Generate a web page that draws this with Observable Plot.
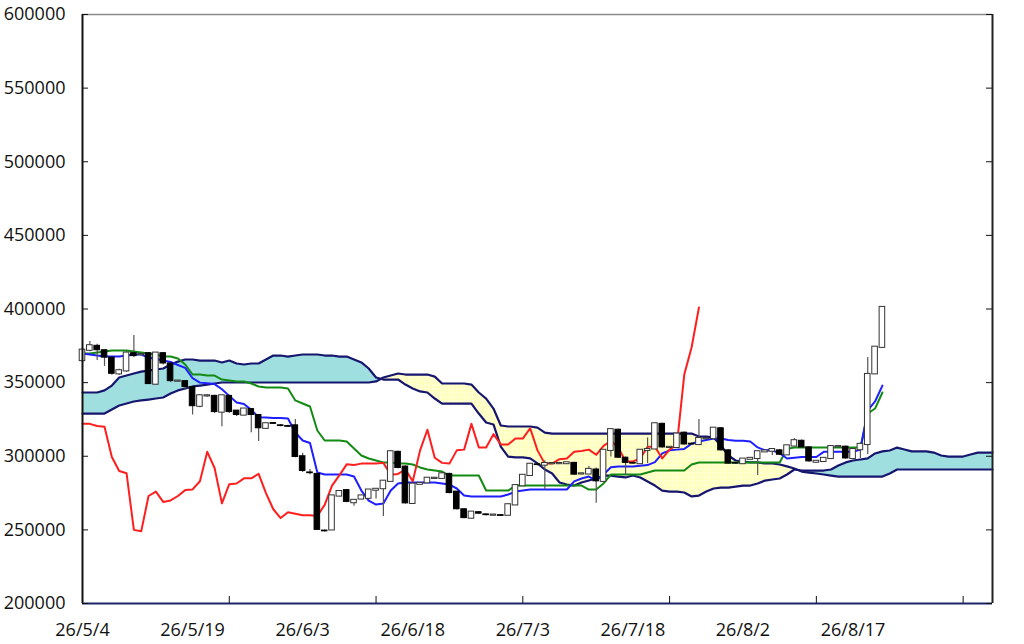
<!DOCTYPE html>
<html>
<head>
<meta charset="utf-8">
<script src="https://cdn.jsdelivr.net/npm/d3@7"></script>
<script src="https://cdn.jsdelivr.net/npm/@observablehq/plot@0.6"></script>
<style>
  html, body { margin: 0; padding: 0; background: #fff; }
  #chart { width: 1024px; height: 644px; }
</style>
</head>
<body>
<div id="chart"></div>
<script>
// ---- tick labels ----
const xLabels = ["26/5/4","26/5/19","26/6/3","26/6/18","26/7/3","26/7/18","26/8/2","26/8/17"];
const xLabelIdx = [0, 15, 30, 45, 60, 75, 90, 105];
const xTickIdx = [0, 20, 40, 60, 80, 100, 120];
const yTicks = [200000, 250000, 300000, 350000, 400000, 450000, 500000, 550000, 600000];

// ---- candles (trading-day index 0..109) ----
const open = [
365000,372000,375000,372000,367000,356000,358000,370000,369000,370000,
349000,370000,363000,351000,351000,347000,334000,341000,341000,330000,
341000,331000,328000,332000,328000,319000,322500,321000,320500,321000,
300000,289000,288000,249500,250000,273000,277000,268500,271000,271500,
277000,278000,283000,303000,293000,268000,281000,282000,285000,285000,
288000,276000,264000,258000,262000,260500,260000,260000,260000,267000,
280000,287000,294500,294000,295000,295000,295000,295500,288000,288000,
291000,283000,304000,318000,299000,295500,295000,304000,305000,322000,
306000,306000,316000,308500,308000,312000,312000,319000,304000,295500,
295000,298000,298500,303000,303500,304000,301000,307000,310500,306000,
296000,296500,298500,306500,306500,298500,304500,308000,356000,374000];
const close = [
372000,375000,372000,367000,356000,358000,370000,368000,369000,349000,
370000,363000,351000,351000,347000,334000,341000,341000,330000,341000,
330000,328000,332000,328000,319000,322000,322000,320500,320000,299500,
290000,288500,250000,249000,273000,276000,269000,270000,273000,277000,
277500,283000,303000,292000,268000,281000,281500,285000,285000,288000,
275000,264000,258000,262000,261000,260000,260000,259500,267000,280000,
287000,294500,294000,295000,295000,295000,295500,287500,288000,291000,
283000,304000,318000,299000,295500,295000,304000,304500,322000,306000,
306000,315000,308000,308000,312000,312000,319000,304000,295000,295000,
298000,298500,303000,303500,304500,301000,307000,310500,306000,296500,
296500,298500,306500,306500,298500,304500,308000,355500,374000,401000];
const high = [
373000,378000,376000,372000,367000,359000,371000,382000,370000,370500,
370500,370500,363000,351500,351500,347000,342000,342000,341500,341500,
341500,331000,332500,332500,328000,322500,323000,321500,321000,325000,
302000,291000,289000,250000,273500,276500,277500,270500,273500,277500,
278000,283500,303500,303500,293500,281500,282000,285500,285500,289000,
288500,276000,264000,262500,262500,261000,260500,260500,267500,280500,
287500,295000,295000,297000,295500,295500,296000,296000,288500,293000,
292000,304500,318500,318500,299500,295500,304500,312500,322500,322500,
306500,315500,316500,309000,325000,312500,319500,319500,304500,295500,
298500,299000,303500,304000,305000,304500,307500,312000,311000,306500,
297000,299000,307000,307000,307000,305000,309000,367000,374500,401500];
const low = [
363000,371000,365000,361000,355000,355000,357000,367000,368000,349000,
348000,362000,350000,350500,345000,328000,333000,340000,329000,320000,
329000,327000,327500,316000,310000,318500,321500,320000,319500,299000,
289000,287500,249500,248500,249500,272500,268500,266000,270500,271000,
271000,259000,282500,291500,267500,267500,280500,281500,284500,284500,
274500,263500,257500,257500,260500,259500,259500,259000,259500,266500,
279500,286500,293500,277000,294500,294500,294500,287000,287500,287500,
268000,282500,299500,298500,287000,294500,294500,295000,304500,305500,
305500,305500,307500,307500,307500,311500,311500,303500,294500,294500,
294500,297500,287000,302500,300500,300500,300500,306500,305500,296000,
295500,296000,298000,306000,298000,298000,298500,301000,355500,373500];

// ---- conversion line (tenkan, blue) and base line (kijun, green) ----
const tenkan = [
369800,369100,368400,367700,367700,367700,368400,369100,369100,367000,
366000,365000,364000,362000,360000,353000,350000,349500,349000,345500,
341000,336500,335500,331500,326500,326300,326000,326000,325600,316100,
310700,309000,289000,287600,287600,287600,287600,286200,276700,269900,
267200,267900,276700,281500,282200,282200,282200,282200,282200,281500,
280800,278100,273300,272700,272700,272700,272700,272700,274000,276000,
276700,277400,277400,277400,277400,277400,277400,282900,284900,286200,
283500,287500,292500,293000,293000,293000,293500,294000,296000,302000,
304000,304500,305000,308500,310000,311000,312000,312000,311000,310500,
310500,310000,306000,304000,304000,302000,298500,299000,299500,299500,
299500,303000,303000,303000,303000,303000,304500,331100,337200,348000];
const kijun = [
369800,369800,370500,371100,371800,371800,371800,371100,370500,369800,
369100,367700,367700,366400,362300,355500,355500,354800,354800,352100,
351400,350800,350800,349400,347400,346700,346700,346700,346000,337900,
335800,333800,317500,310700,310700,310700,310000,305200,300500,298500,
297100,295800,295800,295100,295100,294400,292400,291000,290300,289600,
286900,286900,286900,286900,286900,276700,276700,276700,276700,280100,
280100,280100,280100,280100,280100,280100,280100,280100,280100,277400,
277400,281500,287600,287600,287600,287600,287600,289000,290300,290300,
290300,290300,290300,294400,295800,295800,295800,295800,295800,295800,
295800,295800,295800,295800,295800,295800,305000,306000,306000,306000,
306000,306000,306000,306000,306000,306000,306000,329000,332400,343300];

// ---- lagging span (chikou, red), index 0..84 ----
const chikou = [
322000,322000,320500,320000,299500,290000,288500,250000,249000,273000,
276000,269000,270000,273000,277000,277500,283000,303000,292000,268000,
281000,281500,285000,285000,288000,275000,264000,258000,262000,261000,
260000,260000,259500,267000,280000,287000,294500,294000,295000,295000,
295000,295500,287500,288000,291000,283000,304000,318000,299000,295500,
295000,304000,304500,322000,306000,306000,315000,308000,308000,312000,
312000,319000,304000,295000,295000,298000,298500,303000,303500,304500,
301000,307000,310500,306000,296500,296500,298500,306500,306500,298500,
304500,308000,355500,374000,401000];

// ---- leading spans (cloud), index 0..124 ----
const spanA = [
343300,343300,343300,344700,348000,353500,354800,356200,357500,358200,
358900,359600,362300,364300,365700,365700,365000,365000,365000,363700,
365000,363000,362300,363000,363000,365700,368400,368400,367700,368400,
369100,369100,369100,368400,368400,367700,367700,365700,363700,359600,
353500,352100,352100,352100,348700,346000,344000,343300,339200,335800,
335800,335800,335800,335800,329000,322900,321600,306600,299800,299200,
299200,298500,295100,291000,288300,282200,280800,280100,282200,283500,
284900,286900,286900,286200,285600,286900,285600,282900,280100,276700,
276000,276000,275400,272700,273300,276000,278100,278700,278700,279400,
280100,280100,281500,283500,284200,284900,287600,291000,290300,290300,
290300,290300,291000,293700,295800,297100,297800,298500,301900,303300,
303900,305900,304600,303300,303300,303300,302500,300500,299800,299800,
299800,301200,302500,302500,302500];
const spanB = [
329000,329000,329000,329000,331800,334500,335800,337200,337900,338500,
339200,339900,342600,344700,346000,347400,348000,348700,349400,350100,
350100,350100,350100,350100,350100,350100,350100,350100,350100,350100,
350100,350100,350100,350100,350100,350100,350100,350100,350100,350100,
350800,353500,354800,356200,355500,355500,355500,355500,354100,349400,
349400,349400,349400,348700,343300,339200,332400,320900,320200,320200,
320200,320200,319500,316100,315400,315400,315400,315400,315400,315400,
315400,315400,315400,315400,315400,315400,315400,315400,315400,315400,
315400,315400,315400,315400,313400,313400,312700,307300,300500,297100,
296400,295800,295800,295100,295100,294400,293100,291700,289600,288900,
288300,287600,286900,286200,286200,286200,286200,286200,286200,286200,
288300,291000,291000,291000,291000,291000,291000,291000,291000,291000,
291000,291000,291000,291000,291000];

// ---- tables built from the arrays ----
const candles = open.map((o, i) => ({i, open: o, close: close[i], high: high[i], low: low[i]}));
const lines = tenkan.map((t, i) => ({i, tenkan: t, kijun: kijun[i]}));
const lag = chikou.map((v, i) => ({i, v}));
const cloud = spanA.map((a, i) => ({i, a, b: spanB[i]}));

const NAVY = "#16166e";
const YELLOW = "#ffffc2";
const CYAN = "#a0dfe0";
const FONT = "'Open Sans', 'DejaVu Sans', sans-serif";

const chart = Plot.plot({
  width: 1024,
  height: 644,
  marginLeft: 82,
  marginRight: 32,
  marginTop: 14,
  marginBottom: 41,
  style: {fontFamily: FONT, fontSize: "18px", background: "#fff", color: "#111", overflow: "visible"},
  x: {domain: [0, spanA.length - 1], axis: null, label: null},
  y: {domain: [200000, 600000], axis: null, label: null},
  marks: [
    // cloud
    Plot.areaY(cloud, {x: "i", y1: "b", y2: d => Math.max(d.a, d.b), fill: CYAN}),
    Plot.areaY(cloud, {x: "i", y1: "a", y2: d => Math.max(d.a, d.b), fill: YELLOW}),
    Plot.lineY(cloud, {x: "i", y: "a", stroke: NAVY, strokeWidth: 2.2}),
    Plot.lineY(cloud, {x: "i", y: "b", stroke: NAVY, strokeWidth: 2.2}),
    // indicator lines
    Plot.lineY(lines, {x: "i", y: "kijun", stroke: "#138a13", strokeWidth: 2}),
    Plot.lineY(lines, {x: "i", y: "tenkan", stroke: "#1e1eff", strokeWidth: 2}),
    Plot.lineY(lag, {x: "i", y: "v", stroke: "#ff1e1e", strokeWidth: 2}),
    // candles
    Plot.ruleX(candles, {x: "i", y1: "low", y2: "high", stroke: "#555", strokeWidth: 1.2}),
    Plot.rect(candles, {filter: d => d.close >= d.open, x1: d => d.i - 0.38, x2: d => d.i + 0.38,
      y1: "open", y2: "close", fill: "#fff", stroke: "#333", strokeWidth: 1, insetTop: -0.6, insetBottom: -0.6}),
    Plot.rect(candles, {filter: d => d.close < d.open, x1: d => d.i - 0.38, x2: d => d.i + 0.38,
      y1: "open", y2: "close", fill: "#000", stroke: "#000", strokeWidth: 1}),
    // frame
    Plot.ruleY([600000], {stroke: "#8a8a8a", strokeWidth: 1.5}),
    Plot.ruleX([spanA.length - 1], {stroke: "#222", strokeWidth: 2}),
    Plot.ruleX([0], {stroke: "#111", strokeWidth: 2}),
    Plot.ruleY([200000], {stroke: "#1c2566", strokeWidth: 2}),
    // inward tick marks
    Plot.tickY(yTicks, {y: d => d, stroke: "#111", strokeWidth: 1, insetRight: 904}),
    Plot.tickY(yTicks, {y: d => d, stroke: "#111", strokeWidth: 1, insetLeft: 904}),
    Plot.tickX(xTickIdx, {x: d => d, stroke: "#111", strokeWidth: 1, insetTop: 582}),
    // labels
    Plot.axisY(yTicks, {anchor: "left", label: null, tickSize: 0, tickPadding: 17, tickFormat: d => String(d), fontSize: 18, fill: "#111"}),
    Plot.axisX(xLabelIdx, {anchor: "bottom", label: null, tickSize: 0, tickPadding: 20,
      tickFormat: d => xLabels[xLabelIdx.indexOf(d)], fontSize: 18, fill: "#111"})
  ]
});

// subtle dotted texture for the yellow part of the cloud
const ns = "http://www.w3.org/2000/svg";
const defs = document.createElementNS(ns, "defs");
const pat = document.createElementNS(ns, "pattern");
pat.setAttribute("id", "yellowDots");
pat.setAttribute("width", "4");
pat.setAttribute("height", "4");
pat.setAttribute("patternUnits", "userSpaceOnUse");
const pr = document.createElementNS(ns, "rect");
pr.setAttribute("width", "4"); pr.setAttribute("height", "4"); pr.setAttribute("fill", YELLOW);
const pc = document.createElementNS(ns, "circle");
pc.setAttribute("cx", "1"); pc.setAttribute("cy", "1"); pc.setAttribute("r", "0.7"); pc.setAttribute("fill", "#ffffff");
pat.appendChild(pr); pat.appendChild(pc); defs.appendChild(pat);
chart.insertBefore(defs, chart.firstChild);
d3.select(chart).selectAll(`[fill="${YELLOW}"]`).filter(function() { return this.parentNode !== pat; })
  .attr("fill", "url(#yellowDots)");

document.getElementById("chart").appendChild(chart);
</script>
</body>
</html>
